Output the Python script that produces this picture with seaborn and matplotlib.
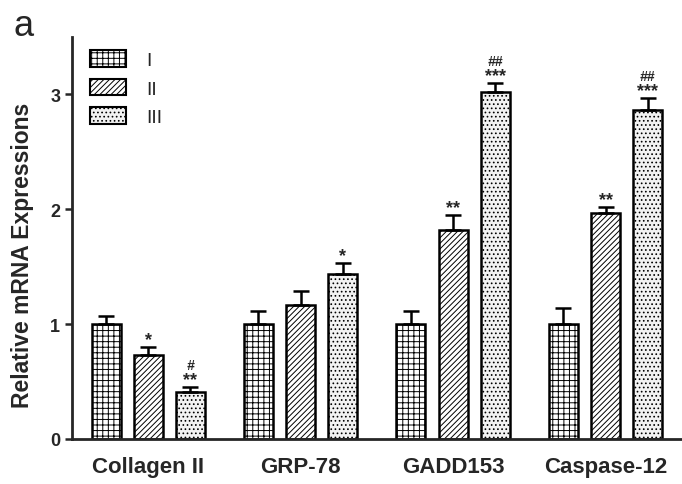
import numpy as np
import pandas as pd
import seaborn as sns
import matplotlib.pyplot as plt
from matplotlib.patches import Patch

# ------------------------------- data ------------------------------- #
genes = ["Collagen II", "GRP-78", "GADD153", "Caspase-12"]
groups = ["I", "II", "III"]
vals_I = [1.00, 1.00, 1.00, 1.00]
vals_II = [0.73, 1.17, 1.82, 1.97]
vals_III = [0.41, 1.44, 3.02, 2.86]
err_I = [0.07, 0.11, 0.11, 0.14]
err_II = [0.07, 0.12, 0.13, 0.05]
err_III = [0.04, 0.09, 0.08, 0.11]
star_II = ["*", "", "**", "**"]
star_III = ["**", "*", "***", "***"]
hash_III = ["#", "", "##", "##"]

# ------------------------------- style ------------------------------ #
hatches = ["+++", "//////", "...."]
fills = ["white", "white", "#f2f2f2"]
lw = 1.8

sns.set_style("ticks")
plt.rcParams["font.family"] = ["Liberation Sans", "DejaVu Sans"]
plt.rcParams["hatch.linewidth"] = 0.7

df = pd.DataFrame({
    "gene": genes * 3,
    "group": [g for g in groups for _ in genes],
    "value": vals_I + vals_II + vals_III,
    "err": err_I + err_II + err_III,
})

fig = plt.figure(figsize=(6.82, 4.85), dpi=100)
ax = fig.add_axes([0.1056, 0.0928, 0.894, 0.829])

sns.barplot(data=df, x="gene", y="value", hue="group", order=genes,
            hue_order=groups, palette=fills, width=0.83, gap=0.31,
            errorbar=None, edgecolor="black", linewidth=lw, legend=False, ax=ax)

# patches are ordered hue-by-hue
bars = ax.patches[:len(df)]
for i, bar in enumerate(bars):
    k = i // len(genes)
    bar.set_hatch(hatches[k])
    bar.set_facecolor(fills[k])

xs = np.array([b.get_x() + b.get_width() / 2 for b in bars])
tops = np.array([b.get_height() for b in bars])
errs = df["err"].to_numpy()
ax.errorbar(xs, tops, yerr=[np.zeros_like(errs), errs], fmt="none",
            ecolor="black", elinewidth=lw, capsize=6, capthick=lw, zorder=3)

# significance marks
n = len(genes)
for j in range(n):
    x2, x3 = xs[n + j], xs[2 * n + j]
    t2 = tops[n + j] + errs[n + j]
    t3 = tops[2 * n + j] + errs[2 * n + j]
    if star_II[j]:
        ax.text(x2, t2 - 0.01, star_II[j], ha="center", va="bottom",
                fontsize=13, fontweight="bold")
    if star_III[j]:
        ax.text(x3, t3 - 0.01, star_III[j], ha="center", va="bottom",
                fontsize=13, fontweight="bold")
    if hash_III[j]:
        ax.text(x3, t3 + 0.13, hash_III[j], ha="center", va="bottom",
                fontsize=10, fontstyle="italic", fontweight="bold")

ax.set_xlim(-0.5, 3.5)
ax.set_ylim(0, 3.5)
ax.set_yticks([0, 1, 2, 3])
ax.set_xlabel("")
ax.set_ylabel("Relative mRNA Expressions", fontsize=16.5, fontweight="bold")
ax.yaxis.set_label_coords(-0.062, 0.46)
ax.tick_params(axis="x", length=0, labelsize=16, pad=12)
ax.tick_params(axis="y", width=lw, length=5, labelsize=13)
for lab in ax.get_xticklabels() + ax.get_yticklabels():
    lab.set_fontweight("bold")
sns.despine(ax=ax)
for s in ["left", "bottom"]:
    ax.spines[s].set_linewidth(2)

handles = [Patch(facecolor=fills[k], edgecolor="black", hatch=hatches[k],
                 linewidth=1.5, label=groups[k]) for k in range(3)]
ax.legend(handles=handles, loc="upper left", bbox_to_anchor=(0.0, 1.01),
          frameon=False, fontsize=14, handlelength=1.9, handleheight=0.9,
          labelspacing=0.5, handletextpad=1.0)

fig.text(0.02, 0.925, "a", fontsize=26)

plt.savefig("out.png", dpi=100)
